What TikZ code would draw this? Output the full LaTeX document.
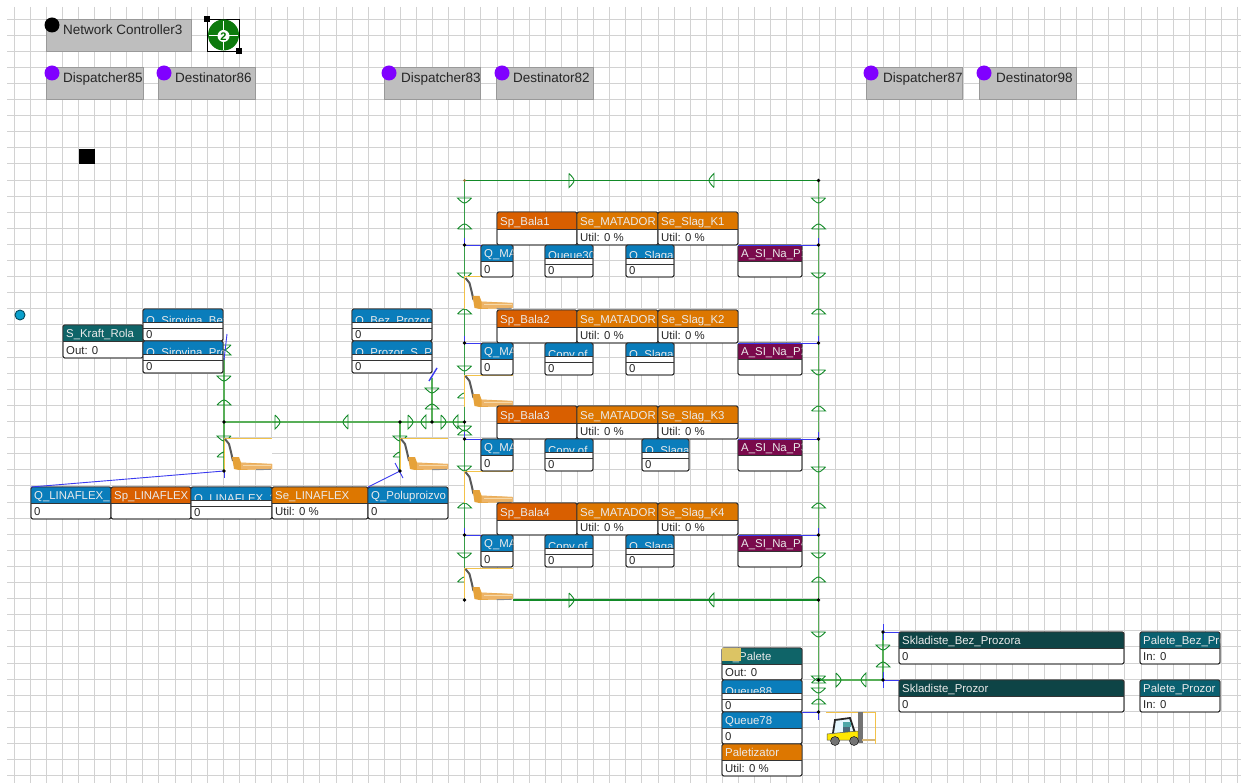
\documentclass[tikz,border=0pt]{standalone}
\usepackage{fontspec}
\setmainfont{Liberation Sans}
\definecolor{gridc}{HTML}{D2D2D2}
\definecolor{qblue}{HTML}{0A7DBB}
\definecolor{spor}{HTML}{D95F00}
\definecolor{seor}{HTML}{DD7700}
\definecolor{asim}{HTML}{7A0A4C}
\definecolor{srct}{HTML}{0F6468}
\definecolor{skl}{HTML}{0E4446}
\definecolor{pal}{HTML}{0A6070}
\definecolor{gbox}{HTML}{BEBEBE}
\definecolor{purp}{HTML}{8000FF}
\definecolor{grn}{HTML}{128A28}
\definecolor{grnl}{HTML}{58AE58}
\definecolor{blu}{HTML}{3A3AF0}
\definecolor{jky}{HTML}{F2C24A}
\definecolor{forkc}{HTML}{D8B878}
\definecolor{jbody}{HTML}{E6A23A}
\definecolor{jfork}{HTML}{EDB468}
\definecolor{jlite}{HTML}{F6D9A8}
\definecolor{tabc}{HTML}{DCC464}
\definecolor{cyanc}{HTML}{0AA0CC}
\tikzset{
 x=1pt,y=-1pt,
 simfont/.style={font=\fontsize{11.4}{13}\selectfont},
 grayfont/.style={font=\fontsize{13.5}{15}\selectfont},
 simframe/.style={draw=black!80,line width=0.9pt,rounded corners=2pt,inner sep=0pt,outer sep=0pt},
 titletext/.style={simfont,text=white!92!black,anchor=base west,inner sep=0pt},
 valuetext/.style={simfont,text=black!85,anchor=base west,inner sep=0pt},
 graybox/.style={fill=gbox,draw=black!40,line width=0.8pt,inner sep=0pt,outer sep=0pt},
 linkline/.style={grn,line width=1.1pt},
 linklight/.style={grnl,line width=1.5pt},
 bluelink/.style={blu,line width=0.9pt},
 dotn/.style={circle,fill=black,inner sep=0pt,minimum size=3.6pt},
 mark shape/.style={draw=grn,line width=0.9pt},
}
% name x1 y1 x2 ymid y2 colour title value
\newcommand{\fullbox}[9]{%
 \pgfmathsetmacro{\cxa}{(#2+#4)/2}\pgfmathsetmacro{\cya}{(#3+#6)/2}%
 \pgfmathsetmacro{\wa}{#4-#2}\pgfmathsetmacro{\ha}{#6-#3}%
 \node[simframe,fill=white,minimum width=\wa pt,minimum height=\ha pt] (#1) at (\cxa,\cya) {};
 \begin{scope}
  \clip[rounded corners=2pt] (#2,#3) rectangle (#4,#6);
  \fill[#7] (#2,#3) rectangle (#4,#5);
  \node[titletext] at ({#2+3},{#5-3.5}) {#8};
 \end{scope}
 \draw[black!80,line width=0.9pt] (#2,#5) -- (#4,#5);
 \draw[black!80,line width=0.9pt,rounded corners=2pt] (#2,#3) rectangle (#4,#6);
 \node[valuetext] at ({#2+3},{#6-3.2}) {#9};
}
% name x1 y1 x2 title value
\newcommand{\cutbox}[6]{%
 \pgfmathsetmacro{\cxa}{(#2+#4)/2}\pgfmathsetmacro{\cya}{#3+16}%
 \pgfmathsetmacro{\wa}{#4-#2}%
 \node[simframe,fill=white,minimum width=\wa pt,minimum height=32pt] (#1) at (\cxa,\cya) {};
 \begin{scope}
  \clip[rounded corners=2pt] (#2,#3) rectangle (#4,{#3+32});
  \fill[qblue] (#2,#3) rectangle (#4,{#3+13});
  \begin{scope}
   \clip (#2,#3) rectangle (#4,{#3+13});
   \node[titletext] at ({#2+3},{#3+15}) {#5};
  \end{scope}
 \end{scope}
 \draw[black!80,line width=0.9pt] (#2,{#3+13}) -- (#4,{#3+13});
 \draw[black!80,line width=0.9pt] (#2,{#3+19}) -- (#4,{#3+19});
 \draw[black!80,line width=0.9pt,rounded corners=2pt] (#2,#3) rectangle (#4,{#3+32});
 \node[valuetext] at ({#2+3},{#3+29.5}) {#6};
}
% name x1 y1 x2 title
\newcommand{\grayunit}[5]{%
 \pgfmathsetmacro{\cxa}{(#2+#4)/2}\pgfmathsetmacro{\cya}{#3+16}%
 \pgfmathsetmacro{\wa}{#4-#2}%
 \node[graybox,minimum width=\wa pt,minimum height=32pt] (#1) at (\cxa,\cya) {};
 \begin{scope}
  \clip (#2,#3) rectangle (#4,{#3+32});
  \node[grayfont,text=black!85,anchor=base west,inner sep=0pt] at ({#2+17},{#3+16}) {#5};
 \end{scope}
}
% x y angle
\newcommand{\mk}[3]{%
 \begin{scope}[shift={(#1,#2)},rotate=#3]
  \draw[mark shape] (0,-7) -- (0,7) .. controls (2.5,4.5) and (5,2) .. (5,0) .. controls (5,-2) and (2.5,-4.5) .. (0,-7);
 \end{scope}}
% x y
\newcommand{\jack}[2]{%
 \begin{scope}[shift={(#1,#2)}]
  \fill[white] (0,0) rectangle (48,32);
  \draw[jky,line width=1pt] (0,32) -- (0,0) -- (48,0);
  \draw[black!65,line width=2pt,line join=round] (1,1) -- (5,6) -- (7,14) -- (9,23);
  \fill[jbody] (8,19) -- (15,19) -- (17,24.5) -- (48,26) -- (48,31) -- (15,32) -- (10,31) -- cycle;
  \fill[jfork] (17,25) -- (48,26) -- (48,31) -- (17,31.5) -- cycle;
  \fill[jlite] (19,27) rectangle (47,28.4);
  \draw[black!45,line width=0.9pt] (32,31.7) -- (47,31.4);
 \end{scope}}
\begin{document}
\begin{tikzpicture}
\useasboundingbox (0,0) rectangle (1241,783);
\fill[white] (0,0) rectangle (1241,783);
% grid
\foreach \i in {0,...,76} {\pgfmathsetmacro{\gx}{floor(14+16.1*\i)+0.5}\draw[gridc,line width=1.3pt] (\gx,7) -- (\gx,783);}
\foreach \j in {0,...,47} {\pgfmathsetmacro{\gy}{floor(19+16.1*\j)+0.5}\draw[gridc,line width=1.3pt] (7,\gy) -- (1241,\gy);}
% junctions
\foreach \n/\x/\y in {tl/464.5/180.5,tr/818.5/180.5,bl/464.5/600,bm/513/600,br/818.5/600,l1/464.5/245,l2/464.5/343,l3/464.5/439,l4/464.5/535,
 rr1/818.5/245,rr2/818.5/343,rr3/818.5/439,rr4/818.5/535,c1/818.5/680,c2/818.5/712,a1/224/358,a2/224/422,a3/224/471,
 b1/400/422,b2/400/471,d1/432/378,d2/432/422,e1/464.5/422,s0/883/680,s1/883/632}
 {\coordinate (\n) at (\x,\y);}
% green links
\draw[linkline] (tl) -- (tr);
\draw[linkline] (bm) -- (br);
\draw[grn!85!white,line width=1.1pt] (tl) -- (bl);
\draw[linklight] (tr) -- (c2);
\draw[linklight] (a1) -- (a3);
\draw[linklight] (a2) -- (e1);
\draw[linklight] (b1) -- (b2);
\draw[linklight] (d1) -- (d2);
\draw[linklight] (c1) -- (s0);
\draw[linklight] (s0) -- (s1);
% direction marks
\mk{569}{180.5}{0}\mk{714}{180.5}{180}\mk{569}{600}{0}\mk{714}{600}{180}
\foreach \y in {198,273,366,466,553} {\mk{464.5}{\y}{-90}}
\foreach \y in {229,314,398,508,582} {\mk{464.5}{\y}{90}}
\mk{464.5}{426}{-90}\mk{464.5}{435}{90}
\foreach \y in {198,273,370,467,553,632,676,688} {\mk{818.5}{\y}{-90}}
\foreach \y in {229,314,411,508,582,683,704} {\mk{818.5}{\y}{90}}
\mk{224}{345}{-90}\mk{224}{355}{90}\mk{224}{376}{-90}\mk{224}{405}{90}\mk{224}{436}{-90}\mk{224}{457}{90}
\mk{400}{436}{-90}\mk{400}{457}{90}\mk{432}{388}{-90}\mk{432}{409}{90}
\mk{883}{645}{-90}\mk{883}{667}{90}\mk{836}{680}{0}\mk{866}{680}{180}
\mk{275}{422}{0}\mk{348}{422}{180}\mk{408}{422}{0}\mk{426}{422}{180}\mk{441}{422}{0}\mk{458}{422}{180}
% pallet jacks
\jack{224}{438}\jack{400}{438}\jack{464.5}{277}\jack{464.5}{375}\jack{464.5}{471}\jack{464.5}{568}
% gray units
\grayunit{nc}{46}{19}{191}{Network Controller3}
\grayunit{di1}{46}{67}{143}{Dispatcher85}
\grayunit{de1}{158}{67}{255}{Destinator86}
\grayunit{di2}{384}{67}{480}{Dispatcher83}
\grayunit{de2}{496}{67}{593}{Destinator82}
\grayunit{di3}{866}{67}{962}{Dispatcher87}
\grayunit{de3}{979}{67}{1076}{Destinator98}
\fill[black] (52,25) circle (7.5);
\foreach \x in {52,164,389,502,871,984} {\fill[purp] (\x,73) circle (7.5);}
% green icon
\draw[black,line width=0.8pt] (207,19) rectangle (239,51);
\fill[green!45!black!95] (223.5,35) circle (15.5);
\draw[white,line width=0.8pt] (209,35) -- (238,35) (223.5,21) -- (223.5,50);
\fill[white] (223.5,36) circle (6);
\node[font=\fontsize{11}{12}\selectfont\bfseries,text=green!45!black,inner sep=0pt] (ic2) at (223.5,37) {2};
\fill[black] (204,16) rectangle (210,22);
\fill[black] (236,48) rectangle (242,54);
\fill[black] (79,149) rectangle (95,164);
\filldraw[fill=cyanc,draw=black!55!cyanc,line width=0.9pt] (20,315) circle (5);
% left group
\fullbox{skraft}{63}{325}{143}{341}{358}{srct}{S\_Kraft\_Rola}{Out: 0}
\cutbox{qsb}{143}{309}{223}{Q\_Sirovina\_Bez}{0}
\cutbox{qsp}{143}{341}{223}{Q\_Sirovina\_Prozor}{0}
\cutbox{qbp}{352}{309}{432}{Q\_Bez\_Prozor}{0}
\cutbox{qpp}{352}{341}{432}{Q\_Prozor\_S\_P}{0}
\fullbox{qlf1}{31}{487}{111}{503}{519}{qblue}{Q\_LINAFLEX\_1}{0}
\fullbox{splf}{111}{487}{191}{503}{519}{spor}{Sp\_LINAFLEX}{}
\cutbox{qlf2}{191}{487}{272}{Q\_LINAFLEX\_2}{0}
\fullbox{self}{272}{487}{368}{503}{519}{seor}{Se\_LINAFLEX}{Util: 0 \%}
\fullbox{qpol}{368}{487}{448}{503}{519}{qblue}{Q\_Poluproizvo}{0}
% right rows
\foreach \r/\ya/\yb/\qn/\xs/\ys in {1/212/245/Queue30/626/674,2/310/343/Copy of/626/674,3/406/439/Copy of/642/689,4/503/535/Copy of/626/674}{%
 \pgfmathsetmacro{\ymh}{\ya+17}\pgfmathsetmacro{\ybh}{\yb+16}\pgfmathsetmacro{\ybe}{\yb+32}%
 \fullbox{sp\r}{497}{\ya}{577}{\ymh}{\yb}{spor}{Sp\_Bala\r}{}
 \fullbox{sm\r}{577}{\ya}{658}{\ymh}{\yb}{seor}{Se\_MATADOR}{Util: 0 \%}
 \fullbox{ss\r}{658}{\ya}{738}{\ymh}{\yb}{seor}{Se\_Slag\_K\r}{Util: 0 \%}
 \fullbox{qm\r}{481}{\yb}{513}{\ybh}{\ybe}{qblue}{Q\_MATADOR}{0}
 \cutbox{qc\r}{545}{\yb}{593}{\qn}{0}
 \cutbox{qs\r}{\xs}{\yb}{\ys}{Q\_Slaga}{0}
 \fullbox{as\r}{738}{\yb}{802}{\ybh}{\ybe}{asim}{A\_SI\_Na\_P\r}{}
}
% blue links
\foreach \r in {1,2,3,4} {
 \draw[bluelink] (l\r) -- (qm\r.north west);
 \draw[bluelink] (rr\r) -- (as\r.north west);
 \draw[bluelink] (l\r) -- ++(0,-7);
 \draw[bluelink] (rr\r) -- ++(0,-7);
}
% bottom group
\fullbox{spal}{722}{648}{802}{664}{680}{srct}{S\_Palete}{Out: 0}
\fill[tabc] (722,648) rectangle (741,661);
\cutbox{q88}{722}{680}{802}{Queue88}{0}
\fullbox{q78}{722}{712}{802}{728}{744}{qblue}{Queue78}{0}
\fullbox{palz}{722}{744}{802}{760}{776}{seor}{Paletizator}{Util: 0 \%}
\fullbox{skb}{899}{632}{1124}{648}{664}{skl}{Skladiste\_Bez\_Prozora}{0}
\fullbox{skp}{899}{680}{1124}{696}{712}{skl}{Skladiste\_Prozor}{0}
\fullbox{pb}{1140}{632}{1220}{648}{664}{pal}{Palete\_Bez\_Prozor}{In: 0}
\fullbox{pp}{1140}{680}{1220}{696}{712}{pal}{Palete\_Prozor}{In: 0}
% more blue links
\draw[bluelink] (a3) -- (qlf1.north west);
\draw[bluelink] (b2) -- (qpol.north west);
\draw[bluelink] (c2) -- (q78.north east);
\draw[bluelink] (s1) -- (skb.north west);
\draw[bluelink] (s0) -- (skp.north west);
\draw[bluelink] (s1) ++(0,-8) -- ++(0,16);
\draw[bluelink] (s0) ++(0,-8) -- ++(0,16);
\draw[bluelink] (c2) -- ++(0,8);
\draw[bluelink] (a3) -- ++(0,7);
\draw[bluelink] (b2) ++(-5,-8) -- ++(8,15);
\draw[bluelink] (a1) ++(0,2) -- ++(3,-26);
\draw[bluelink,line width=1.4pt] (d1) ++(-3,3) -- ++(8,-13);
% junction dots
\foreach \n in {tr,bl,br,l1,l2,l3,l4,rr1,rr2,rr3,rr4,c1,c2,a2,a3,b1,b2,d2,e1,s0,s1} {\node[dotn] at (\n) {};}
\node[circle,fill=jky!60!black,inner sep=0pt,minimum size=3pt] at (tl) {};
% forklift
\draw[jky,line width=1pt] (826,712) -- (875,712) -- (875,744);
\fill[black!55] (858,712) rectangle (863,743);
\fill[forkc] (862,739) rectangle (875,741);
\draw[black!85,line width=1.8pt,fill=cyan!10] (833,733) -- (835,720) -- (850,718) -- (855,733);
\fill[teal!70] (843,722) rectangle (851,727);
\fill[cyan!40!black] (843,727) rectangle (850,732);
\fill[yellow!90!orange,draw=black!70,line width=0.5pt] (827,734) -- (858,731) -- (858,740) -- (827,740) -- cycle;
\filldraw[fill=black!55,draw=black] (835,741) circle (4.5);
\filldraw[fill=black!55,draw=black] (854,741) circle (4.5);
\end{tikzpicture}
\end{document}
